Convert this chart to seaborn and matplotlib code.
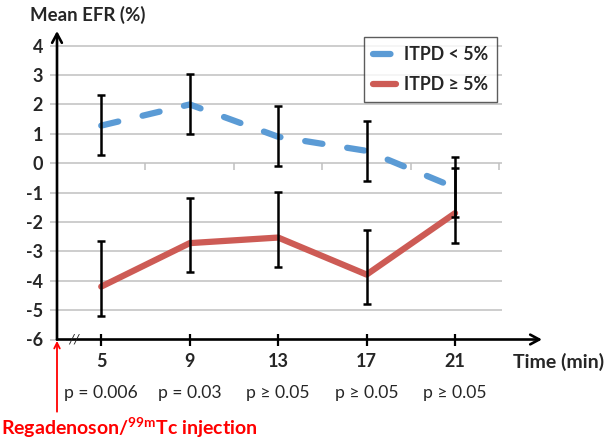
import seaborn as sns
import matplotlib.pyplot as plt
import matplotlib.transforms as mtransforms
import pandas as pd

# data
times = [5, 9, 13, 17, 21]
efr_low = [1.28, 2.0, 0.9, 0.42, -0.83]        # ITPD < 5%
err_low_minus = [1.0, 1.0, 1.0, 1.02, 1.0]
err_low_plus = [1.04, 1.05, 1.04, 1.02, 1.05]
efr_high = [-4.2, -2.72, -2.53, -3.79, -1.7]   # ITPD >= 5%
err_high_minus = [1.0, 0.99, 0.99, 1.0, 1.02]
err_high_plus = [1.55, 1.55, 1.55, 1.52, 1.55]
p_values = ["p = 0.006", "p = 0.03", "p \u2265 0.05", "p \u2265 0.05", "p \u2265 0.05"]
yticks = [-6, -5, -4, -3, -2, -1, 0, 1, 2, 3, 4]
label_low = "ITPD < 5%"
label_high = "ITPD \u2265 5%"

df = pd.DataFrame({
    "time": times * 2,
    "efr": efr_low + efr_high,
    "group": [label_low] * 5 + [label_high] * 5,
})

sns.set_style("white")
plt.rcParams["font.family"] = ["Lato", "DejaVu Sans"]
plt.rcParams["mathtext.fontset"] = "custom"
plt.rcParams["mathtext.rm"] = "Lato"
plt.rcParams["mathtext.bf"] = "Lato:bold"

blue = "#5b9bd5"
red = "#cd5b55"
grid_c = "#c0c0c0"

fig = plt.figure(figsize=(6.15, 4.4), dpi=100)
ax = fig.add_axes([57 / 615, (440 - 339.5) / 440, (542 - 57) / 615, (339.5 - 31) / 440])

xmin, xmax = 3, 24.93
ax.set_xlim(xmin, xmax)
ax.set_ylim(-6, 4.5)

# grid lines and small ticks on the zero line
ax.hlines(yticks[1:], xmin, 23.1, color=grid_c, lw=1.1, zorder=0)
ax.vlines([7, 11, 15, 19, 23], -0.24, 0, color=grid_c, lw=1.1, zorder=0)

sns.lineplot(data=df, x="time", y="efr", hue="group", style="group",
             palette={label_low: blue, label_high: red},
             dashes={label_low: (2.8, 4.0), label_high: ""},
             lw=4.5, ax=ax, zorder=2, solid_capstyle="round", dash_capstyle="round")

ax.errorbar(times, efr_low, yerr=[err_low_minus, err_low_plus], fmt="none",
            ecolor="black", elinewidth=1.8, capsize=3, capthick=1.8, zorder=3)
ax.errorbar(times, efr_high, yerr=[err_high_minus, err_high_plus], fmt="none",
            ecolor="black", elinewidth=1.8, capsize=3, capthick=1.8, zorder=3)

for s in ax.spines.values():
    s.set_visible(False)

# axes with arrow heads
arrow = dict(arrowstyle="->,head_length=0.65,head_width=0.35", lw=1.9, color="black",
             shrinkA=0, shrinkB=0)
ax.annotate("", xy=(xmin, 4.5), xytext=(xmin, -6), arrowprops=arrow, annotation_clip=False)
ax.annotate("", xy=(xmax, -6), xytext=(xmin, -6), arrowprops=arrow, annotation_clip=False)
ax.text(3.75, -6, "//", ha="center", va="center", fontsize=10, color="#222222",
        fontstyle="italic")

ax.set_yticks(yticks)
ax.set_yticklabels([str(v) for v in yticks], fontweight="bold", fontsize=13)
ax.tick_params(axis="y", length=5, width=1.1, color=grid_c, pad=5, left=True)
ax.set_xticks(times)
ax.set_xticklabels([str(t) for t in times], fontweight="bold", fontsize=13)
ax.tick_params(axis="x", direction="inout", length=8, width=1.6, color="black",
               pad=6, bottom=True)
ax.set_xlabel("")
ax.set_ylabel("")

# p values under the ticks
trans = mtransforms.blended_transform_factory(ax.transData, fig.transFigure)
for t, p in zip(times, p_values):
    ax.text(t, 1 - 393 / 440, p, transform=trans, ha="center", va="center", fontsize=12.6)

fig.text(30 / 615, 1 - 15 / 440, "Mean EFR (%)", fontweight="bold", fontsize=13.4,
         ha="left", va="center")
fig.text(513 / 615, 1 - 362 / 440, "Time (min)", fontweight="bold", fontsize=14,
         ha="left", va="center")

# injection marker
ax.annotate("", xy=(xmin, -6), xytext=(0, -52), textcoords="offset points",
            arrowprops=dict(arrowstyle="->,head_length=0.4,head_width=0.2", lw=1.3,
                            color="red", shrinkA=0, shrinkB=1),
            annotation_clip=False)
fig.text(0.002, 1 - 428 / 440, r"Regadenoson/$^{\mathbf{99m}}$Tc injection", color="red",
         fontweight="bold", fontsize=14, ha="left", va="center")

leg = ax.legend(loc="upper left", bbox_to_anchor=(364 / 615, 1 - 37 / 440),
                bbox_transform=fig.transFigure, frameon=True, fancybox=False,
                prop={"weight": "bold", "size": 12.8}, handlelength=1.3,
                labelspacing=0.75, borderpad=0.5, handletextpad=0.45, borderaxespad=0)
leg.get_frame().set_edgecolor("#333333")
leg.get_frame().set_linewidth(1.0)

fig.savefig("out.png", dpi=100)
